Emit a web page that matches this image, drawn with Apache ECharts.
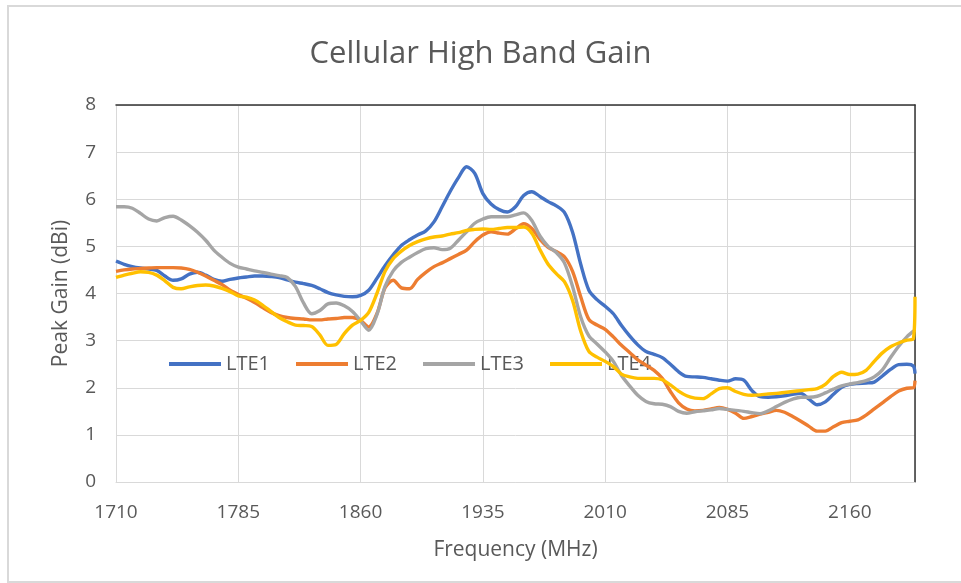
<!DOCTYPE html>
<html>
<head>
<meta charset="utf-8">
<title>Cellular High Band Gain</title>
<script src="https://cdn.jsdelivr.net/npm/echarts@6/dist/echarts.min.js"></script>
<style>
html, body { margin: 0; padding: 0; background: #fff; overflow: hidden; }
#frame { position: absolute; left: 7px; top: 5px; width: 970px; height: 574px; border: 2px solid #d9d9d9; border-right: none; }
#chart { position: absolute; left: 0; top: 0; width: 961px; height: 583px; }
</style>
</head>
<body>
<div id="frame"></div>
<div id="chart"></div>
<script>
// frequency (MHz)
var freqs = [1710, 1715, 1720, 1725, 1730, 1735, 1740, 1745, 1750, 1755,
	1760, 1765, 1770, 1775, 1780, 1785, 1790, 1795, 1800, 1805,
	1810, 1815, 1820, 1825, 1830, 1835, 1840, 1845, 1850, 1855,
	1860, 1865, 1870, 1875, 1880, 1885, 1890, 1895, 1900, 1905,
	1910, 1915, 1920, 1925, 1930, 1935, 1940, 1945, 1950, 1955,
	1960, 1965, 1970, 1975, 1980, 1985, 1990, 1995, 2000, 2005,
	2010, 2015, 2020, 2025, 2030, 2035, 2040, 2045, 2050, 2055,
	2060, 2065, 2070, 2075, 2080, 2085, 2090, 2095, 2100, 2105,
	2110, 2115, 2120, 2125, 2130, 2135, 2140, 2145, 2150, 2155,
	2160, 2165, 2170, 2175, 2180, 2185, 2190, 2195, 2199, 2200];

// peak gain (dBi)
var lte1 = [4.69, 4.62, 4.57, 4.54, 4.52, 4.49, 4.37, 4.28, 4.31, 4.41,
	4.45, 4.39, 4.30, 4.26, 4.30, 4.33, 4.35, 4.37, 4.37, 4.36,
	4.34, 4.29, 4.24, 4.21, 4.17, 4.10, 4.02, 3.97, 3.94, 3.93,
	3.96, 4.07, 4.32, 4.59, 4.82, 5.02, 5.14, 5.24, 5.33, 5.52,
	5.84, 6.17, 6.46, 6.69, 6.55, 6.12, 5.90, 5.78, 5.73, 5.84,
	6.08, 6.16, 6.06, 5.95, 5.86, 5.72, 5.30, 4.62, 4.07, 3.87,
	3.73, 3.57, 3.32, 3.10, 2.91, 2.77, 2.71, 2.64, 2.50, 2.34,
	2.24, 2.23, 2.22, 2.19, 2.16, 2.14, 2.19, 2.16, 1.94, 1.81,
	1.80, 1.81, 1.83, 1.86, 1.88, 1.76, 1.64, 1.70, 1.86, 2.01,
	2.07, 2.09, 2.10, 2.12, 2.25, 2.39, 2.49, 2.50, 2.46, 2.30];
var lte2 = [4.47, 4.50, 4.52, 4.53, 4.54, 4.55, 4.55, 4.55, 4.54, 4.51,
	4.45, 4.37, 4.28, 4.19, 4.07, 3.98, 3.90, 3.81, 3.70, 3.60,
	3.53, 3.49, 3.47, 3.46, 3.44, 3.44, 3.46, 3.47, 3.49, 3.49,
	3.43, 3.29, 3.57, 4.12, 4.28, 4.12, 4.10, 4.30, 4.45, 4.57,
	4.65, 4.74, 4.83, 4.92, 5.10, 5.24, 5.31, 5.28, 5.26, 5.37,
	5.48, 5.38, 5.15, 4.98, 4.89, 4.78, 4.47, 3.93, 3.45, 3.33,
	3.24, 3.08, 2.90, 2.75, 2.59, 2.48, 2.37, 2.20, 1.92, 1.68,
	1.55, 1.51, 1.52, 1.55, 1.58, 1.54, 1.46, 1.35, 1.39, 1.44,
	1.48, 1.52, 1.48, 1.39, 1.29, 1.18, 1.08, 1.08, 1.17, 1.26,
	1.29, 1.32, 1.42, 1.55, 1.68, 1.81, 1.93, 1.99, 2.00, 2.15];
var lte3 = [5.84, 5.84, 5.81, 5.70, 5.58, 5.54, 5.61, 5.64, 5.56, 5.44,
	5.30, 5.13, 4.92, 4.77, 4.64, 4.56, 4.52, 4.48, 4.45, 4.41,
	4.38, 4.34, 4.15, 3.80, 3.57, 3.64, 3.78, 3.80, 3.74, 3.62,
	3.42, 3.22, 3.55, 4.15, 4.48, 4.66, 4.77, 4.87, 4.95, 4.97,
	4.93, 4.96, 5.13, 5.31, 5.49, 5.58, 5.63, 5.63, 5.63, 5.67,
	5.71, 5.55, 5.22, 5.00, 4.87, 4.65, 4.15, 3.50, 3.10, 2.93,
	2.76, 2.56, 2.26, 2.04, 1.84, 1.71, 1.66, 1.65, 1.60, 1.50,
	1.46, 1.49, 1.51, 1.53, 1.56, 1.54, 1.52, 1.50, 1.47, 1.45,
	1.51, 1.60, 1.69, 1.76, 1.80, 1.80, 1.82, 1.89, 1.97, 2.04,
	2.08, 2.11, 2.15, 2.23, 2.38, 2.64, 2.88, 3.08, 3.20, 3.22];
var lte4 = [4.34, 4.39, 4.43, 4.46, 4.45, 4.39, 4.27, 4.13, 4.10, 4.14,
	4.17, 4.18, 4.16, 4.11, 4.04, 3.95, 3.92, 3.86, 3.75, 3.62,
	3.49, 3.40, 3.33, 3.32, 3.30, 3.12, 2.90, 2.92, 3.15, 3.33,
	3.43, 3.60, 4.00, 4.47, 4.74, 4.90, 5.02, 5.10, 5.16, 5.20,
	5.22, 5.26, 5.29, 5.34, 5.36, 5.37, 5.36, 5.38, 5.40, 5.40,
	5.41, 5.28, 4.93, 4.62, 4.42, 4.25, 3.85, 3.20, 2.77, 2.65,
	2.56, 2.45, 2.29, 2.23, 2.20, 2.20, 2.20, 2.17, 2.06, 1.93,
	1.83, 1.78, 1.77, 1.87, 1.98, 2.00, 1.92, 1.86, 1.84, 1.85,
	1.87, 1.88, 1.90, 1.92, 1.94, 1.96, 1.98, 2.07, 2.24, 2.33,
	2.28, 2.29, 2.37, 2.56, 2.74, 2.87, 2.95, 3.01, 3.04, 3.93];

var seriesNames = ['LTE1', 'LTE2', 'LTE3', 'LTE4'];
var seriesValues = [lte1, lte2, lte3, lte4];
var colors = ['#4472C4', '#ED7D31', '#A5A5A5', '#FFC000'];

var textColor = '#595959';
var fontName = '"Open Sans", "Noto Sans", sans-serif';

var pairs = function(ys){
	var out = [];
	for(var i = 0; i < freqs.length; i++){
		out.push([freqs[i], ys[i]]);
	}
	return out;
};

var series = [];
for(var i = 0; i < seriesNames.length; i++){
	series.push({
		name: seriesNames[i],
		type: 'line',
		data: pairs(seriesValues[i]),
		symbol: 'none',
		smooth: 0.3,
		lineStyle: {width: 3.4, color: colors[i]},
		itemStyle: {color: colors[i]},
		z: 3 + i
	});
}

var myChart = echarts.init(document.getElementById('chart'));
var option = {
	animation: false,
	color: colors,
	textStyle: {fontFamily: fontName},
	title: {
		text: 'Cellular High Band Gain',
		left: 'center',
		top: 34,
		textStyle: {fontSize: 31, fontWeight: 'normal', color: textColor, fontFamily: fontName}
	},
	legend: {
		data: seriesNames,
		icon: 'rect',
		left: 164,
		top: 349,
		itemWidth: 52,
		itemHeight: 4,
		itemGap: 26,
		textStyle: {fontSize: 20, color: textColor, fontFamily: fontName}
	},
	grid: {left: 116, right: 46, top: 105, bottom: 101, containLabel: false},
	xAxis: [{
		type: 'value',
		min: 1710,
		max: 2200,
		interval: 75,
		name: 'Frequency (MHz)',
		nameLocation: 'middle',
		nameGap: 58,
		nameTextStyle: {fontSize: 21, color: textColor},
		axisLine: {show: true, lineStyle: {color: '#d9d9d9', width: 1}},
		axisTick: {show: false},
		axisLabel: {
			fontSize: 19, color: textColor, margin: 21, showMaxLabel: false,
			formatter: function(v){ return String(v); }
		},
		splitLine: {show: true, lineStyle: {color: '#d9d9d9', width: 1}}
	}, {
		type: 'value',
		position: 'top',
		min: 1710,
		max: 2200,
		axisLine: {show: true, onZero: false, lineStyle: {color: '#333', width: 1.5}},
		axisTick: {show: false},
		axisLabel: {show: false},
		splitLine: {show: false}
	}],
	yAxis: [{
		type: 'value',
		min: 0,
		max: 8,
		interval: 1,
		name: 'Peak Gain (dBi)',
		nameLocation: 'middle',
		nameGap: 44,
		nameTextStyle: {fontSize: 21, color: textColor},
		axisLine: {show: false},
		axisTick: {show: false},
		axisLabel: {fontSize: 19, color: textColor, margin: 20},
		splitLine: {show: true, lineStyle: {color: '#d9d9d9', width: 1}}
	}, {
		type: 'value',
		position: 'right',
		min: 0,
		max: 8,
		axisLine: {show: true, onZero: false, lineStyle: {color: '#333', width: 1.5}},
		axisTick: {show: false},
		axisLabel: {show: false},
		splitLine: {show: false}
	}],
	series: series
};
myChart.setOption(option);
</script>
</body>
</html>
